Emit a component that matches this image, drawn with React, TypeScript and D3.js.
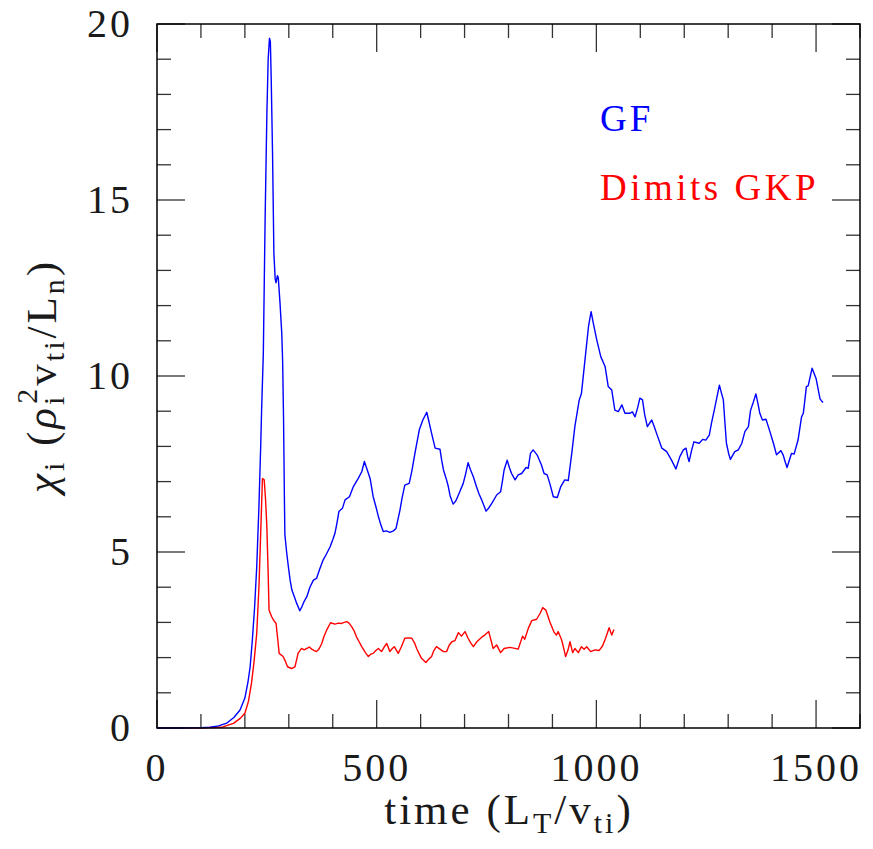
import React from "react";
import * as d3 from "d3";

const gfTime = [0,50,100,121,140,159,175,189,200,207,212,217,222,227,232,236,238,242,246,250,253,256,258,260,263,266,269,271,274,276,280,284,286,288,290,291,295,299,303,307,312,318,325,330,335,341,348,356,363,370,378,386,394,400,405,410,414,422,428,438,447,458,466,472,478,485,492,498,504,510,515,522,530,538,544,553,558,564,574,580,587,597,605,614,619,625,633,644,648,652,659,663,667,674,680,686,697,703,708,713,720,727,733,739,749,755,762,773,782,786,790,797,802,807,815,822,830,840,845,850,856,865,875,881,888,894,902,911,919,928,936,944,951,961,966,974,982,988,993,1001,1010,1020,1027,1035,1042,1050,1058,1065,1076,1082,1088,1094,1099,1105,1110,1116,1126,1132,1137,1149,1160,1171,1181,1190,1198,1204,1208,1211,1217,1222,1234,1242,1249,1257,1262,1270,1280,1285,1289,1293,1296,1301,1305,1315,1323,1331,1338,1346,1351,1357,1363,1368,1372,1378,1386,1395,1403,1410,1420,1425,1430,1434,1439,1444,1450,1459,1467,1471,1478,1482,1491,1500,1509,1512,1516];
const gfChi = [0,0,0.01,0.02,0.06,0.14,0.3,0.51,0.85,1.3,1.74,2.5,3.4,4.58,6.3,8.0,9.0,10.65,14.4,17.4,19.0,19.6,19.5,18.4,16.3,13.5,12.75,12.65,12.85,12.8,12.07,11.2,10.4,8.8,6.5,5.5,5.0,4.58,4.2,3.92,3.75,3.54,3.33,3.45,3.6,3.73,4.0,4.2,4.25,4.5,4.77,4.95,5.15,5.35,5.53,5.85,6.15,6.24,6.48,6.57,6.86,7.09,7.28,7.57,7.35,7.09,6.57,6.3,6.0,5.75,5.58,5.6,5.56,5.6,5.67,6.19,6.55,6.9,6.95,7.3,7.8,8.47,8.75,8.97,8.7,8.37,7.95,7.92,7.6,7.33,7.05,6.86,6.6,6.36,6.45,6.62,6.95,7.25,7.54,7.35,7.14,6.86,6.65,6.48,6.16,6.25,6.38,6.62,6.71,7.0,7.33,7.61,7.4,7.23,7.05,7.19,7.23,7.4,7.38,7.8,7.9,7.76,7.47,7.23,7.19,6.95,6.57,6.55,6.86,7.05,7.03,7.8,8.56,9.32,9.5,10.45,11.4,11.83,11.5,11.02,10.55,10.26,9.7,9.6,9.03,8.99,9.18,8.94,8.94,8.98,8.84,9.1,9.37,9.32,8.9,8.56,8.75,8.55,8.37,7.95,7.85,7.61,7.36,7.71,7.9,7.95,7.7,7.57,7.9,8.13,8.09,8.2,8.18,8.32,8.66,9.13,9.74,9.5,9.32,8.6,8.09,7.8,7.63,7.85,7.9,8.09,8.42,8.56,9.03,9.25,9.49,9.2,8.94,8.75,8.77,8.42,8.09,7.76,7.88,7.76,7.55,7.4,7.6,7.8,7.78,8.18,8.84,8.94,9.7,9.72,10.22,9.93,9.35,9.3,9.25];

const gkpTime = [0,100,150,174,190,200,208,215,221,227,232,236,240,244,247,250,253,255,261,266,271,275,278,287,292,297,306,314,318,321,329,335,341,347,352,358,363,369,375,380,386,395,405,413,420,426,432,437,443,449,454,460,466,474,481,487,492,498,504,511,517,523,530,535,540,549,556,564,572,580,586,591,597,602,612,618,625,630,636,644,652,659,665,671,678,686,693,701,708,714,720,728,739,746,755,760,765,773,782,790,803,812,822,832,837,845,853,864,872,878,885,894,903,909,913,921,926,930,935,940,946,951,959,966,972,978,987,997,1006,1014,1021,1029,1035,1040];
const gkpChi = [0,0,0.03,0.13,0.28,0.42,0.75,1.27,1.9,2.69,4.0,5.53,7.09,7.05,6.5,5.72,4.4,3.35,3.16,3.05,2.97,2.5,2.12,2.03,1.9,1.74,1.69,1.74,1.95,2.12,2.26,2.22,2.26,2.3,2.24,2.2,2.17,2.25,2.4,2.6,2.78,2.99,2.95,2.98,2.97,3.0,3.02,2.98,2.88,2.75,2.59,2.45,2.31,2.15,2.03,2.1,2.12,2.2,2.26,2.17,2.3,2.4,2.17,2.25,2.31,2.12,2.3,2.55,2.56,2.55,2.42,2.26,2.1,1.98,1.86,1.95,2.03,2.2,2.31,2.24,2.17,2.17,2.35,2.45,2.48,2.71,2.61,2.74,2.55,2.42,2.31,2.45,2.58,2.64,2.74,2.5,2.26,2.36,2.14,2.26,2.29,2.27,2.24,2.61,2.52,2.83,3.05,3.09,3.26,3.42,3.35,3.02,2.74,2.64,2.74,2.5,2.25,2.03,2.2,2.45,2.14,2.26,2.14,2.31,2.24,2.31,2.17,2.22,2.2,2.33,2.55,2.85,2.64,2.8];

const xMajor = [0, 500, 1000, 1500];
const yMajor = [0, 5, 10, 15, 20];
const legendLabels = ["GF", "Dimits GKP"];
const seriesColors = ["#0000ff", "#ff0000"];

const W = 873, H = 849;
const L = 157, R = 860, T = 24, B = 728;
const FONT = "'Liberation Serif', 'Times New Roman', serif";

export default function App() {
  const x = d3.scaleLinear().domain([0, 1600]).range([L, R]);
  const y = d3.scaleLinear().domain([0, 20]).range([B, T]);
  const line = d3.line<[number, number]>().x(d => x(d[0])).y(d => y(d[1]));
  const gf = gfTime.map((t, i) => [t, gfChi[i]] as [number, number]);
  const gkp = gkpTime.map((t, i) => [t, gkpChi[i]] as [number, number]);
  const xMinor = d3.range(0, 1601, 100);
  const yMinor = d3.range(0, 21, 1);
  const tickStroke = "#333";

  return (
    <svg width={W} height={H} style={{ position: "absolute", left: 0, top: 0, background: "#fff" }}>
      <rect x={0} y={0} width={W} height={H} fill="#fff" />
      {xMinor.map(v => {
        const len = v % 500 === 0 ? 28 : 14;
        return (
          <g key={"xt" + v}>
            <line x1={x(v)} x2={x(v)} y1={B} y2={B - len} stroke={tickStroke} strokeWidth={1.3} />
            <line x1={x(v)} x2={x(v)} y1={T} y2={T + len} stroke={tickStroke} strokeWidth={1.3} />
          </g>
        );
      })}
      {yMinor.map(v => {
        const len = v % 5 === 0 ? 28 : 14;
        return (
          <g key={"yt" + v}>
            <line x1={L} x2={L + len} y1={y(v)} y2={y(v)} stroke={tickStroke} strokeWidth={1.3} />
            <line x1={R} x2={R - len} y1={y(v)} y2={y(v)} stroke={tickStroke} strokeWidth={1.3} />
          </g>
        );
      })}
      <path d={line(gkp) || ""} fill="none" stroke={seriesColors[1]} strokeWidth={1.4} strokeLinejoin="round" />
      <path d={line(gf) || ""} fill="none" stroke={seriesColors[0]} strokeWidth={1.4} strokeLinejoin="round" />
      <rect x={L} y={T} width={R - L} height={B - T} fill="none" stroke="#000" strokeWidth={1.5} />
      {xMajor.map(v => (
        <text key={"xl" + v} x={x(v)} y={781} textAnchor="middle" fontFamily={FONT} fontSize={40} letterSpacing={3} fill="#1a1a1a">{v}</text>
      ))}
      {yMajor.map(v => (
        <text key={"yl" + v} x={133} y={y(v) + 13} textAnchor="end" fontFamily={FONT} fontSize={40} letterSpacing={3} fill="#1a1a1a">{v}</text>
      ))}
      <text x={509} y={824} textAnchor="middle" fontFamily={FONT} fontSize={43} letterSpacing={3} fill="#1a1a1a">
        time (L<tspan fontSize={30} dy={9}>T</tspan><tspan dy={-9}>/v</tspan><tspan fontSize={30} dy={9}>ti</tspan><tspan dy={-9}>)</tspan>
      </text>
      <text transform={`translate(56, ${(T + B) / 2}) rotate(-90)`} textAnchor="middle" fontFamily={FONT} fontSize={43} letterSpacing={3} fill="#1a1a1a">
        <tspan fontStyle="italic">χ</tspan><tspan fontSize={30} dy={8}>i</tspan><tspan dy={-8}> (</tspan><tspan fontStyle="italic">ρ</tspan><tspan fontSize={30} dy={8}>i</tspan><tspan fontSize={30} dx={-10} dy={-27}>2</tspan><tspan dy={19}>v</tspan><tspan fontSize={30} dy={8}>ti</tspan><tspan dy={-8}>/L</tspan><tspan fontSize={30} dy={8}>n</tspan><tspan dy={-8}>)</tspan>
      </text>
      <text x={600} y={131} fontFamily={FONT} fontSize={37} letterSpacing={3} fill={seriesColors[0]}>{legendLabels[0]}</text>
      <text x={600} y={200} fontFamily={FONT} fontSize={37} letterSpacing={3.5} fill={seriesColors[1]}>{legendLabels[1]}</text>
    </svg>
  );
}
